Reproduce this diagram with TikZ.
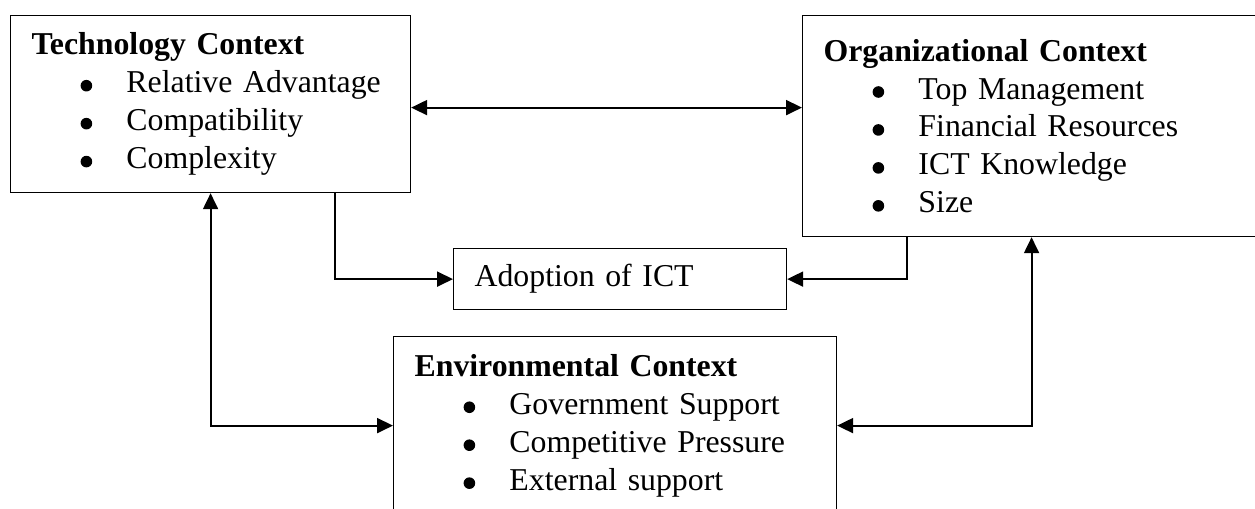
\documentclass[tikz,border=0pt]{standalone}
\usepackage{fontspec}
\setmainfont{Liberation Serif}
\usetikzlibrary{positioning,arrows.meta,calc}
\newcommand{\blt}{\tikz[baseline=0pt]\fill (0pt,4pt) circle (3.3pt);}
\newcommand{\itm}[1]{\hspace*{0.98cm}\blt\hspace*{0.686cm}#1}

\begin{document}
\begin{tikzpicture}[
    x=0.02cm, y=-0.02cm,
    >={Triangle[length=0.32cm,width=0.3cm]},
    box/.style={draw, line width=0.7pt, anchor=north west, align=left,
                inner xsep=0.42cm, inner ysep=0pt,
                font=\fontsize{18.1}{21.6}\selectfont},
    arr/.style={->, line width=1.1pt},
    biarr/.style={<->, line width=1.1pt},
  ]
  \useasboundingbox (0,0) rectangle (1255,508);
  \clip (0,0) rectangle (1255,508);
  % Context boxes
  \node[box, text width=7.16cm, minimum height=3.54cm] (tech) at (10,15)
    {\textbf{Technology Context}\\ \itm{Relative Advantage}\\ \itm{Compatibility}\\ \itm{Complexity}};
  \node[box, text width=8.32cm, minimum height=4.42cm] (org) at (802,15)
    {\textbf{Organizational Context}\\ \itm{Top Management}\\ \itm{Financial Resources}\\ \itm{ICT Knowledge}\\ \itm{Size}};
  \node[box, text width=8.02cm, minimum height=3.56cm] (env) at (393,336)
    {\textbf{Environmental Context}\\ \itm{Government Support}\\ \itm{Competitive Pressure}\\ \itm{External support}};
  % Outcome
  \node[box, text width=5.82cm, minimum height=1.22cm] (adopt) at (453,248) {Adoption of ICT};

  \coordinate (tr) at ([yshift=-0.07cm]tech.east);
  \draw[biarr] (tr) -- (tr -| org.west);
  \draw[arr] ([xshift=2.48cm]tech.south) |- (adopt.west);
  \draw[arr] ([xshift=-2.5cm]org.south) |- (adopt.east);
  \draw[biarr] (tech.south) |- (env.west);
  \draw[biarr] (org.south) |- (env.east);
\end{tikzpicture}
\end{document}
